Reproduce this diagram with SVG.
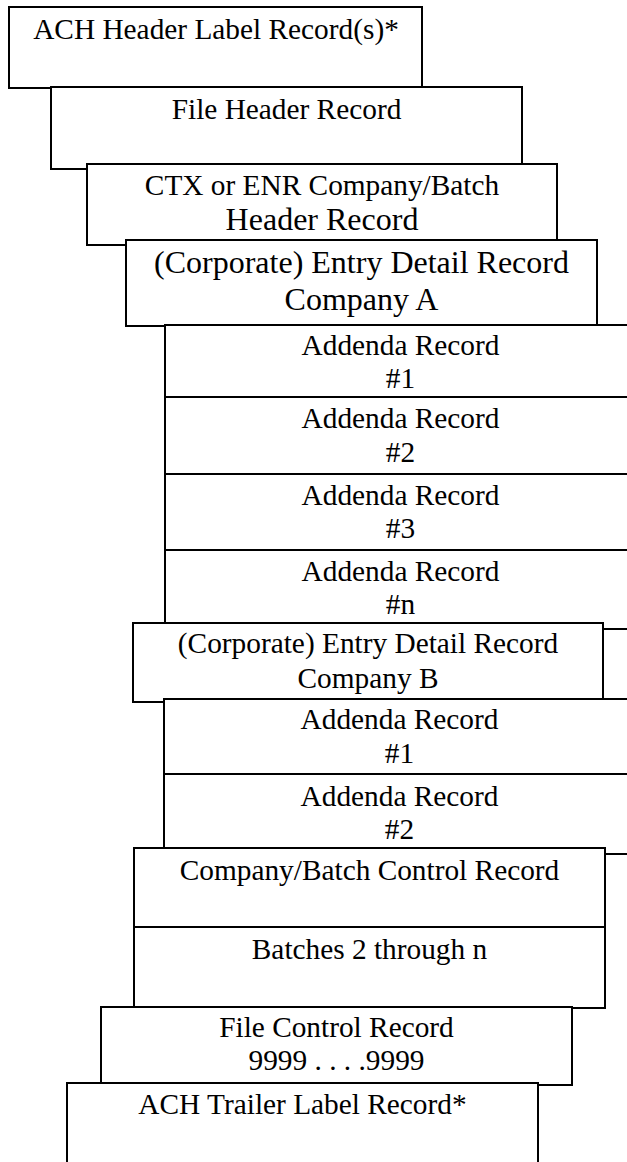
<svg xmlns="http://www.w3.org/2000/svg" width="627" height="1162" viewBox="0 0 627 1162">
<style>
.box{fill:#fff;stroke:#000;stroke-width:2}
.t{font-family:"Liberation Serif","Times New Roman",serif;font-size:29.33px;fill:#000;text-anchor:middle}
.L{font-size:32px}
</style>
<rect width="627" height="1162" fill="#fff"/>
<g id="connectors"/>
<g id="ach-header">
<rect class="box" x="9" y="7" width="413" height="81"/>
<text class="t" x="216" y="39">ACH Header Label Record(s)*</text>
</g>
<g id="file-header">
<rect class="box" x="51" y="87" width="471" height="82"/>
<text class="t" x="286.5" y="119">File Header Record</text>
</g>
<g id="batch-header">
<rect class="box" x="87" y="164" width="470" height="81"/>
<text class="t" x="322" y="195">CTX or ENR Company/Batch</text>
<text class="t L" x="322" y="230">Header Record</text>
</g>
<g id="entry-a">
<rect class="box" x="126" y="240" width="471" height="86"/>
<text class="t L" x="361.5" y="273">(Corporate) Entry Detail Record</text>
<text class="t L" x="361.5" y="310">Company A</text>
</g>
<g id="addenda-a1">
<rect class="box" x="165" y="325" width="471" height="72"/>
<text class="t" x="400.5" y="355">Addenda Record</text>
<text class="t" x="400.5" y="388">#1</text>
</g>
<g id="addenda-a2">
<rect class="box" x="165" y="397" width="471" height="77"/>
<text class="t" x="400.5" y="428">Addenda Record</text>
<text class="t" x="400.5" y="462">#2</text>
</g>
<g id="addenda-a3">
<rect class="box" x="165" y="474" width="471" height="76"/>
<text class="t" x="400.5" y="505">Addenda Record</text>
<text class="t" x="400.5" y="538">#3</text>
</g>
<g id="addenda-an">
<rect class="box" x="165" y="550" width="471" height="79"/>
<text class="t" x="400.5" y="581">Addenda Record</text>
<text class="t" x="400.5" y="614">#n</text>
</g>
<g id="entry-b">
<rect class="box" x="133" y="623" width="470" height="79"/>
<text class="t" x="368" y="653">(Corporate) Entry Detail Record</text>
<text class="t" x="368" y="688">Company B</text>
</g>
<g id="addenda-b1">
<rect class="box" x="164" y="699" width="471" height="75"/>
<text class="t" x="399.5" y="729">Addenda Record</text>
<text class="t" x="399.5" y="763">#1</text>
</g>
<g id="addenda-b2">
<rect class="box" x="164" y="774" width="471" height="80"/>
<text class="t" x="399.5" y="806">Addenda Record</text>
<text class="t" x="399.5" y="839">#2</text>
</g>
<g id="batch-control">
<rect class="box" x="134" y="848" width="471" height="79"/>
<text class="t" x="369.5" y="880">Company/Batch Control Record</text>
</g>
<g id="batches">
<rect class="box" x="134" y="927" width="471" height="81"/>
<text class="t" x="369.5" y="959">Batches 2 through n</text>
</g>
<g id="file-control">
<rect class="box" x="101" y="1007" width="471" height="78"/>
<text class="t" x="336.5" y="1037">File Control Record</text>
<text class="t" x="336.5" y="1070">9999 . . . .9999</text>
</g>
<g id="ach-trailer">
<rect class="box" x="67" y="1083" width="471" height="100"/>
<text class="t" x="302.5" y="1114">ACH Trailer Label Record*</text>
</g>
</svg>
